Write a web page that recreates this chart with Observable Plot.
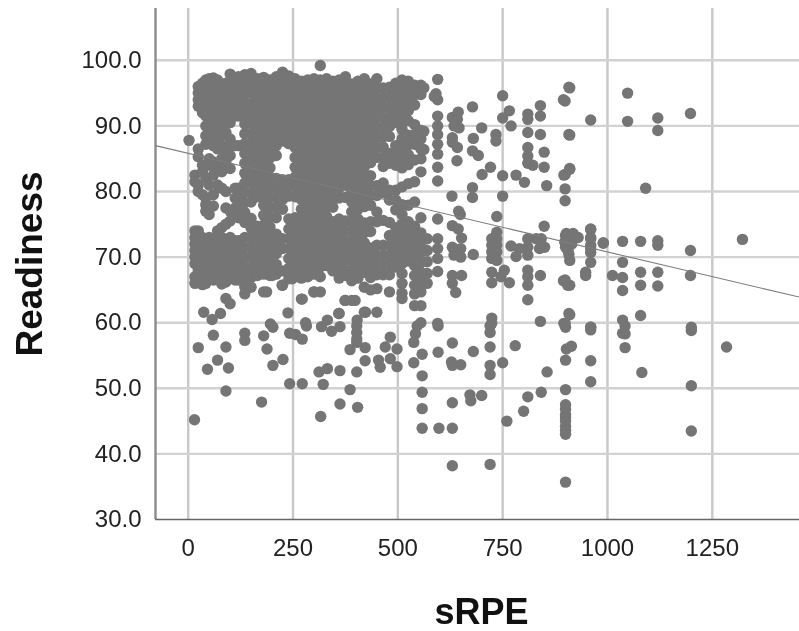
<!DOCTYPE html>
<html><head><meta charset="utf-8">
<script src="https://cdn.jsdelivr.net/npm/d3@7"></script>
<script src="https://cdn.jsdelivr.net/npm/@observablehq/plot@0.6"></script>
<style>html,body{margin:0;padding:0;background:#fff}svg{display:block;filter:blur(.45px)}</style>
</head><body><div id="chart"></div>
<script>
const xTicks = [0,250,500,750,1000,1250];
const yTicks = [30,40,50,60,70,80,90,100];
const trendSrpe = [-78,1458];
const trendReadiness = [87,63.9];

// columns of the dense cloud: sRPE value, then the readiness values read at it
const columnSrpe = [16,24,34,42,50,60,70,80,90,100,112,120,135,150,165,180,195,210,225,240,255,270,285,300,315,330,345,360,375,390,405,420,435,450,465,480,495,510,525,540,555];
const columnReadiness = [
[82.5,81.5,74,73,72,71,70,69,67,66],
[96,95,94,93,86.5,85.3,81,80,74,72.5,71,69.5,68,66.5],
[96.5,95,93.5,92,84,83,79.5,73,71.5,70,68.5,67,65.8],
[97,96,94.5,93,91.5,90,88.5,87.2,82,79,78,77,72,70.5,69,67.5,66],
[97.2,95.8,94.4,93,91.6,90.2,88.8,87.4,85,84,81,76.5,73,71.5,70,68.5,66.8],
[97.3,96,94.5,93,91.5,90,88.5,87,84.5,82.5,79.5,77.8,72.5,71,69.5,68,66.5],
[97,95.5,94,92.5,91,89.5,88,86.5,83.5,81,74,72.8,71.3,69.8,68.3,66.8],
[96,94.5,93,91.5,90,88.5,87,85,83,80.5,74.5,73,71.5,70,68.5,67,65.9],
[96.5,95,93.5,92,90.5,89,86.2,84.5,80,77.5,75,72.5,71,69.5,68,66.2,63.7],
[97.9,96.5,95,93.5,92,90.5,88,87,85.5,83.5,77,75.5,73,71.5,70,68.5,66.8,62.9],
[97.3,96,94.5,93,91.5,87,80.5,79,77.5,72.5,71,69.5,68,66.5],
[97.5,96,94.5,93,91.5,87,80.5,79,77.5,76,72.5,71,69.5,68,66.5],
[97.8,96.3,94.8,93.3,91.8,90.3,88.8,87.3,85.8,84.3,82.8,81.3,79.8,78.3,76.8,75.3,73,71.5,70,68.5,67,65.5,64.4],
[98,96.5,95,93.4,91.9,90.4,88.9,87.4,85.9,84.4,82.9,81.4,79.9,78.4,75.9,74.4,72.9,71.4,69.9,68.4,66.9,65.4],
[97.2,95.7,94.2,92.7,91.2,89.7,88.2,86.7,85.2,83.7,82.2,80.7,79.2,74.7,73.2,71.7,70.2,68.7,67.2],
[97.4,95.9,94.4,92.9,91.4,89.9,88.4,86.9,85.4,83.9,82.4,80.9,79.4,77.9,76.4,74.9,73.4,71.9,70.4,68.9,67.4,64.7],
[97,95.6,94.1,92.6,91.1,89.6,88.1,86.6,85.1,83.6,82.1,80.6,79.1,77.6,76.1,74.6,73.1,71.6,70.1,68.6,67.2],
[97.5,96,94.5,93,91.5,90,88.5,87,85.5,82,80.5,79,77.5,76,73.5,72,70.5,68.9,67.4],
[98.2,96.7,95.2,93.7,92.2,90.7,89.2,87.7,81.8,80.3,78.8,77.3,72.8,71.3,67.9,65.7],
[97.6,96.1,94.6,93.1,91.6,90.1,88.6,87.3,81.8,80.8,79.3,75.8,74.3,72.8,71.3,69.8,68.3,66.7],
[97.2,95.7,94.2,92.7,91.2,89.7,88.2,86.7,85.2,83.7,82.2,80.7,79.2,76,74.5,73,71.5,70,68.5,67],
[96.8,95.3,93.8,92.3,90.8,89.3,87.8,86.3,84.8,83.3,81.8,80.3,78.8,77.3,75.8,74.3,72.8,71.3,69.8,68.3,66.8,63.6],
[97,95.5,94,92.5,91,89.5,88,86.5,85,83.5,82,80.5,79,77.5,76,74.5,73,71.5,70,68.5,67],
[97.2,95.7,94.2,92.7,91.2,89.7,88.2,86.7,85.2,83.7,82.2,80.7,79.2,77.7,76.2,74.7,73.2,71.7,70.2,68.7,67.4,64.7],
[99.2,97,95.5,94,92.5,91,89.5,88,86.5,85,83.5,82,80.5,79,77.5,76,74.5,73,71.5,70,68.5,67,64.7],
[97.2,95.7,94.2,92.7,91.2,89.7,88.2,86.7,85.2,83.7,82.2,80.7,79.2,77.7,76.2,74.7,73.2,71.7,70.2,68.7],
[96.8,95.3,93.8,92.3,90.8,89.3,87.8,86.3,84.8,83.3,81.8,80.3,78.8,77.6,75.4,73.9,72.4,70.9,69.4,67.9],
[97,95.5,94,92.5,91,89.5,88,86.5,85,83.5,82,80.5,79,75.8,74.3,72.8,71.3,69.8,68.3,66.8,61.4],
[97.5,96,94.5,93,91.5,90,88.5,87,85.5,84,82.5,81,79.1,75.5,74,72.5,71,69.5,68,67.2,63.4],
[96.4,94.9,93.4,91.9,90.4,88.9,87.4,85.9,84.4,82.9,81.4,79.9,78.4,76.9,75.4,73.9,72.4,70.9,69.4,67.9,66.4,63.4],
[96.8,95.3,93.8,92.3,90.8,89.3,87.8,86.3,84.8,83.3,81.8,80.3,78.8,77.3,75.8,74.3,72.8,71.3,69.8,68.3,66.8],
[97.2,95.7,94.2,92.7,91.2,89.7,88.2,86.7,85.2,83.7,82.2,80.7,79.2,77.7,75.2,73.7,72.2,70.7,69.2,67.7,65.4,61.6],
[96.4,94.9,93.4,91.9,90.4,88.9,87.4,85.9,84.4,82.4,80.9,79.4,77.9,75.4,73.9,71.4,69.9,68.4,66.9,65],
[97.2,95.7,94.2,92.7,91.2,89.7,88.2,86.7,85.2,80.9,79.4,76.9,75.4,71.8,70.3,68.8,67.3,65.2,61.6],
[95.8,94.3,92.8,91.3,89.8,88.3,86.8,85.3,83.8,81.3,79.8,75.6,71.8,70.3,68.8,67.3],
[95.9,94.4,92.9,91.4,89.9,88.4,85.8,84.3,80.2,78.7,75.3,73.3,71.8,70.3,68.8,67.3,64.7],
[96.5,95,93.5,92,90.5,87,85.5,84,80.2,78.7,77.2,74.5,73,71.5,70,68.5],
[97,95.5,94,92.5,91,89.5,88,86.5,85,83.6,80.7,78,76.5,75,73.5,72,70.5,69,67.5,66,64.5,63.7],
[96.8,95.3,93.8,92.3,90.8,88.6,87.1,85.6,84.1,81.2,77.9,75.4,73.9,72.4,70.9,69.4],
[96.2,94.7,93.2,90.2,88.7,87.2,84.8,81.5,78.4,74.7,73.2,71.7,70.2,68.7,67.2,65.7,64.4,62.6],
[96.2,94.8,89.3,88,86.5,85,83,76,73.7,72.2,70.7,69.2,67.7,66.2,64.7,62.6,60]
];

// the scattered points outside the cloud
const sparseSrpe = [2,24,46,60,70,90,96,90,15,135,135,180,188,202,226,175,242,272,242,256,272,282,202,318,342,362,312,332,362,322,402,386,362,404,316,386,422,422,454,458,470,482,482,498,498,402,402,402,402,37,77,57,238,196,280,187,224,200,248,300,272,359,374,398,423,403,332,546,542,538,596,630,596,558,538,558,558,558,558,598,630,630,628,630,650,680,720,720,720,720,720,750,780,856,672,674,700,810,842,800,760,900,900,900,900,900,900,900,900,900,902,914,900,900,960,960,960,1042,1042,1042,1082,1200,1200,1200,1284,630,720,900,1322,1198,1198,1198,1048,1048,1120,1120,1091,908,895,908,960,910,896,900,908,915,900,908,960,960,960,960,990,1036,1079,1120,1120,1036,1036,1036,1079,1079,1120,1120,1012,948,895,905,908,896,960,1036,1036,1079,1200,595,562,591,595,587,595,595,595,595,595,595,595,562,562,678,644,630,642,634,646,630,630,642,641,700,680,678,692,750,766,750,770,734,734,721,701,750,782,802,678,678,629,750,810,810,840,840,810,840,810,810,810,822,849,849,855,899,910,910,910,899,899,899,645,649,595,736,849,630,644,652,595,736,724,736,724,736,724,736,724,736,770,790,782,810,810,810,830,842,850,838,902,918,930,898,906,910,960,960,960,960,990,630,634,650,650,680,595,595,595,570,570,570,570,570,630,652,630,638,724,754,724,746,766,810,810,810,810,840,899,910,948,910,899,840,724,724,595,960];
const sparseReadiness = [87.8,56.2,52.9,58.1,54.3,56.3,53.1,49.6,45.2,58.4,57.3,58,56,53.5,54.4,47.9,50.7,50.7,58.4,58.2,57.5,59.5,59.3,59.4,58.7,59.4,52.5,53,52.7,50.6,52.5,49.8,47.6,47.1,45.7,55.9,56.2,54.2,54.3,53.2,56.3,57.8,54.5,56,53.3,59.5,58.5,57.5,57,61.6,61.4,60.5,61.5,59.8,60,64.7,65.7,67.2,66.7,64.7,63.6,61.4,63.4,63.4,61.6,60.4,60.4,59.5,58.3,57,59.5,56.9,55.5,55.2,53.9,51.9,49.4,46.9,43.9,43.9,43.9,47.8,54,53.5,53.6,55.6,59.5,58.5,56.3,53.5,52.1,53.9,56.5,52.5,49,48.1,48.9,48.7,49.4,46.5,45,49.8,47.5,46.8,46,45.5,45,44.2,43.6,43,56,56.4,54.3,59.3,58.9,54.2,51,59.5,58.3,56.2,52.4,58.8,50.4,43.5,56.3,38.2,38.4,35.7,72.7,91.9,71,67.2,95,90.7,91.2,89.3,80.5,95.9,94,88.7,90.9,83.5,82.5,73.3,72.6,72,71.5,70.4,74.2,73,71.8,70.7,72.2,72.4,72.4,72.5,71.8,69.2,66.9,64.9,67.7,65.7,67.7,65.6,67.2,67.7,66.4,65.7,61.4,59.9,59.3,60.4,58.4,61.1,59.3,97.1,95.8,94.9,94,94.5,91.5,90,88.7,87.2,85.7,83.7,81.6,89.2,86.4,92.9,92.1,91.3,91,90,89.7,88.2,87.5,86.7,84.7,89.7,88.1,86.2,85.5,94.6,92.3,91.2,90,88.7,87.7,83.7,82.6,82.4,82.5,81.4,80.6,79.1,79.3,79.3,91.8,91,93.1,91.5,89,88.7,86.7,85.4,84.3,84,86,83.7,80.9,93.8,95.8,88.6,83.4,82.6,80.4,78.6,77,76.5,75.8,76.2,74.7,74.8,74.3,72.9,72.8,73.8,72.8,72.8,71.8,71.8,70.8,70.8,69.8,69.5,71.7,71.3,70.1,72.8,71.5,70.3,72.8,72.8,71.5,71.3,73.6,73.6,73,72.3,71,69.5,74.3,72.8,71.3,69.2,72.1,71.5,70.3,70,71.3,70.4,71.3,69.8,67.8,72.8,71,69.3,67.5,66,67.2,67.2,66,64.6,67.7,68,66.1,67,66.1,68,67,65.7,63.5,67.2,66.5,65.7,67.2,61.2,59.9,60.2,60.7,59.9,59.9,59.3];

const cloudPoints = columnSrpe.flatMap((s,i)=>columnReadiness[i].map(r=>({s,r})));
const scatterPoints = sparseSrpe.map((s,i)=>({s,r:sparseReadiness[i]}));
const points = cloudPoints.concat(scatterPoints);
const trend = trendSrpe.map((s,i)=>({s,r:trendReadiness[i]}));

const chart = Plot.plot({
  width:799,height:631,
  marginLeft:155,marginRight:0,marginTop:8,marginBottom:112,
  style:{fontFamily:"'Liberation Sans',Arial,sans-serif",background:"#fff",color:"#222"},
  x:{domain:[-78,1458],ticks:xTicks},
  y:{domain:[30,107.9],ticks:yTicks},
  marks:[
    Plot.gridX(xTicks,{stroke:"#c8c8c8",strokeOpacity:1,strokeWidth:2.4}),
    Plot.gridY(yTicks.slice(1),{stroke:"#d2d2d2",strokeOpacity:1,strokeWidth:2.4}),
    Plot.ruleX([-78],{stroke:"#8c8c8c",strokeWidth:2.4}),
    Plot.ruleY([30],{stroke:"#666",strokeWidth:1.6}),
    Plot.dot(points,{x:"s",y:"r",r:5.7,fill:"#757575",stroke:"none"}),
    Plot.line(trend,{x:"s",y:"r",stroke:"#7d7d7d",strokeWidth:1.1}),
    Plot.axisX(xTicks,{tickSize:0,tickPadding:19,fontSize:24,label:null,fill:"#222",tickFormat:d=>String(d)}),
    Plot.axisY(yTicks,{tickSize:0,tickPadding:14,fontSize:24,label:null,fill:"#222",tickFormat:d=>d.toFixed(1)}),
    Plot.text(["sRPE"],{frameAnchor:"bottom",dx:4,dy:104,fontSize:36,fontWeight:"bold",fill:"#111",textAnchor:"middle"}),
    Plot.text(["Readiness"],{frameAnchor:"left",dx:-125,dy:0,rotate:-90,fontSize:37,fontWeight:"bold",fill:"#111",textAnchor:"middle"})
  ]
});
document.getElementById("chart").append(chart);
</script></body></html>
